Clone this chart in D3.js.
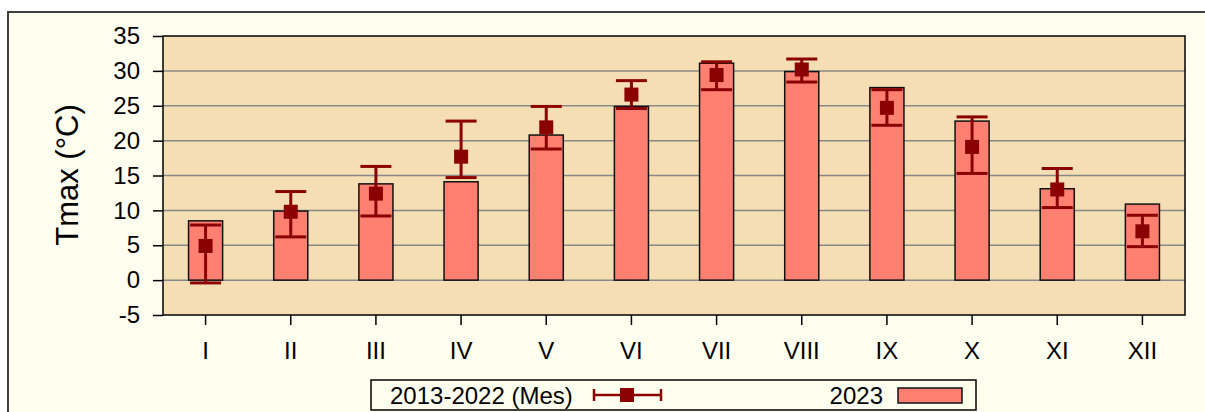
<html lang="es">
<head>
<meta charset="utf-8">
<title>Tmax</title>
<style>
  body { margin: 0; background: #ffffff; font-family: "Liberation Sans", Arial, Helvetica, sans-serif; }
  svg text { fill: #000; }
</style>
</head>
<body>
<div id="chart"></div>
<script src="https://d3js.org/d3.v7.min.js"></script>
<script>
// months and values
var months = ["I", "II", "III", "IV", "V", "VI", "VII", "VIII", "IX", "X", "XI", "XII"];
var tmax2023 = [8.5, 9.9, 13.8, 14.1, 20.8, 24.9, 31.1, 29.9, 27.6, 22.8, 13.1, 10.9];
var mean = [4.9, 9.8, 12.4, 17.7, 21.9, 26.6, 29.4, 30.2, 24.7, 19.1, 13.0, 7.0];
var low = [-0.4, 6.2, 9.2, 14.7, 18.8, 24.6, 27.3, 28.4, 22.2, 15.3, 10.4, 4.8];
var high = [7.9, 12.7, 16.3, 22.8, 24.9, 28.6, 31.3, 31.7, 27.3, 23.4, 16.0, 9.3];
var yTicks = [35, 30, 25, 20, 15, 10, 5, 0, -5];

var width = 1205, height = 412;
var plotL = 163, plotR = 1185, plotT = 36, plotB = 315;
var dark = "#8b0000";

var svg = d3.select("#chart").append("svg")
    .attr("width", width)
    .attr("height", height);

// outer frame
svg.append("rect")
    .attr("x", 8).attr("y", 12)
    .attr("width", width + 10).attr("height", height)
    .attr("fill", "#fffff0")
    .attr("stroke", "#404040")
    .attr("stroke-width", 2);

var x = d3.scaleBand().domain(months).range([plotL, plotR]).paddingInner(0.6).paddingOuter(0.3);
var xc = d3.scaleBand().domain(months).range([plotL, plotR]);
var y = d3.scaleLinear().domain([-5, 35]).range([plotB, plotT]);

// plot area
svg.append("rect")
    .attr("x", plotL).attr("y", plotT)
    .attr("width", plotR - plotL).attr("height", plotB - plotT)
    .attr("fill", "#f5deb3");

svg.append("g").selectAll("line")
    .data(yTicks.filter(function (t) { return t > -5 && t < 35; }))
    .enter().append("line")
    .attr("x1", plotL).attr("x2", plotR)
    .attr("y1", function (d) { return y(d); })
    .attr("y2", function (d) { return y(d); })
    .attr("stroke", "#888")
    .attr("stroke-width", 1.5);

svg.append("rect")
    .attr("x", plotL).attr("y", plotT)
    .attr("width", plotR - plotL).attr("height", plotB - plotT)
    .attr("fill", "none")
    .attr("stroke", "#000")
    .attr("stroke-width", 1.5);

// axes
var yAxis = svg.append("g")
    .attr("transform", "translate(" + plotL + ",0)")
    .call(d3.axisLeft(y).tickValues(yTicks).tickSize(10).tickPadding(13).tickFormat(function (d) { return String(d); }));
yAxis.select(".domain").remove();
yAxis.selectAll("line").attr("stroke", "#000").attr("stroke-width", 1.5);
yAxis.selectAll("text").attr("font-size", 24).attr("font-family", "Liberation Sans, Arial, sans-serif");

var xAxis = svg.append("g")
    .attr("transform", "translate(0," + plotB + ")")
    .call(d3.axisBottom(xc).tickSize(10).tickPadding(17));
xAxis.select(".domain").remove();
xAxis.selectAll("line").attr("stroke", "#000").attr("stroke-width", 1.5);
xAxis.selectAll("text").attr("font-size", 24).attr("font-family", "Liberation Sans, Arial, sans-serif");

svg.append("text")
    .attr("transform", "translate(78,175) rotate(-90)")
    .attr("text-anchor", "middle")
    .attr("font-size", 31)
    .text("Tmax (°C)");

// bars 2023
svg.append("g").selectAll("rect")
    .data(months)
    .enter().append("rect")
    .attr("x", function (d) { return x(d); })
    .attr("width", x.bandwidth())
    .attr("y", function (d, i) { return y(tmax2023[i]); })
    .attr("height", function (d, i) { return y(0) - y(tmax2023[i]); })
    .attr("fill", "#ff8070")
    .attr("stroke", "#111")
    .attr("stroke-width", 1.5);

// error bars
var eb = svg.append("g").selectAll("g")
    .data(months)
    .enter().append("g")
    .attr("transform", function (d) { return "translate(" + (xc(d) + xc.bandwidth() / 2) + ",0)"; });

eb.append("line")
    .attr("x1", 0).attr("x2", 0)
    .attr("y1", function (d, i) { return y(low[i]); })
    .attr("y2", function (d, i) { return y(high[i]); })
    .attr("stroke", dark).attr("stroke-width", 3);
eb.append("line")
    .attr("x1", -15.5).attr("x2", 15.5)
    .attr("y1", function (d, i) { return y(low[i]); })
    .attr("y2", function (d, i) { return y(low[i]); })
    .attr("stroke", dark).attr("stroke-width", 3);
eb.append("line")
    .attr("x1", -15.5).attr("x2", 15.5)
    .attr("y1", function (d, i) { return y(high[i]); })
    .attr("y2", function (d, i) { return y(high[i]); })
    .attr("stroke", dark).attr("stroke-width", 3);
eb.append("rect")
    .attr("x", -7).attr("width", 14).attr("height", 14)
    .attr("y", function (d, i) { return y(mean[i]) - 7; })
    .attr("fill", dark);

// legend
var lg = svg.append("g");
lg.append("rect")
    .attr("x", 371).attr("y", 380).attr("width", 605).attr("height", 30)
    .attr("fill", "#fffff0").attr("stroke", "#000").attr("stroke-width", 1.5);
lg.append("text").attr("x", 390).attr("y", 404).attr("font-size", 24).text("2013-2022 (Mes)");
lg.append("line").attr("x1", 594).attr("x2", 661).attr("y1", 395).attr("y2", 395)
    .attr("stroke", dark).attr("stroke-width", 2.5);
lg.append("line").attr("x1", 594).attr("x2", 594).attr("y1", 389).attr("y2", 401)
    .attr("stroke", dark).attr("stroke-width", 2.5);
lg.append("line").attr("x1", 661).attr("x2", 661).attr("y1", 389).attr("y2", 401)
    .attr("stroke", dark).attr("stroke-width", 2.5);
lg.append("rect").attr("x", 620).attr("y", 388).attr("width", 14).attr("height", 14).attr("fill", dark);
lg.append("text").attr("x", 883).attr("y", 404).attr("text-anchor", "end").attr("font-size", 24).text("2023");
lg.append("rect").attr("x", 898).attr("y", 388).attr("width", 64).attr("height", 15)
    .attr("fill", "#ff8070").attr("stroke", "#111").attr("stroke-width", 1.5);
</script>
</body>
</html>
